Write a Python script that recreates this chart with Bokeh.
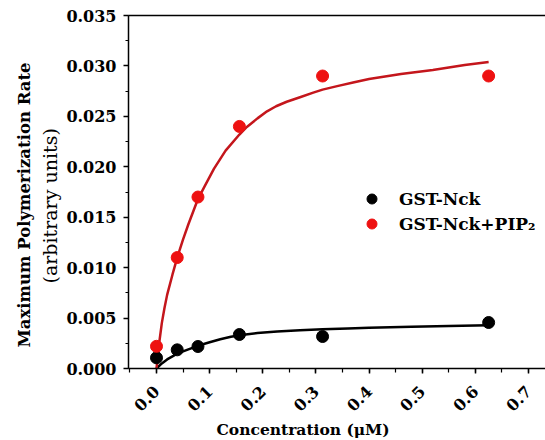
from bokeh.plotting import figure
from bokeh.models import (Range1d, LinearAxis, FixedTicker, SingleIntervalTicker,
                          PrintfTickFormatter, Title, Legend, LegendItem)
from bokeh.embed import file_html
from bokeh.resources import INLINE
import math

# ---- data ----
conc = [0.0, 0.039, 0.078, 0.156, 0.3125, 0.625]
rate_nck = [0.00106, 0.00185, 0.00218, 0.00337, 0.00317, 0.00456]
rate_nck_pip2 = [0.0022, 0.0110, 0.0170, 0.0240, 0.0290, 0.0290]

fit_x_nck = [0.0, 0.01, 0.02, 0.03, 0.039, 0.05, 0.06, 0.078, 0.10, 0.12, 0.14, 0.16,
             0.19, 0.227, 0.27, 0.3125, 0.36, 0.40, 0.48, 0.55, 0.625]
fit_y_nck = [0.0, 0.0005, 0.0009, 0.0012, 0.00146, 0.0017, 0.0019, 0.00225, 0.0026, 0.0029,
             0.00315, 0.00333, 0.00352, 0.00368, 0.0038, 0.00389, 0.00397, 0.00403,
             0.00413, 0.00421, 0.0043]

fit_x_pip2 = [0.0, 0.005, 0.01, 0.015, 0.02, 0.03, 0.039, 0.05, 0.06, 0.078, 0.09, 0.108,
              0.13, 0.156, 0.17, 0.19, 0.208, 0.225, 0.245, 0.27, 0.295, 0.3125, 0.34,
              0.37, 0.40, 0.46, 0.52, 0.58, 0.625]
fit_y_pip2 = [0.0, 0.0025, 0.0045, 0.0060, 0.0073, 0.0093, 0.0110, 0.0128, 0.0143, 0.0168,
              0.0180, 0.0198, 0.0216, 0.0232, 0.02395, 0.0248, 0.0255, 0.0260, 0.02645,
              0.0269, 0.02735, 0.02765, 0.0280, 0.02835, 0.0287, 0.0292, 0.0296, 0.0301,
              0.0304]

series_names = ["GST-Nck", "GST-Nck+PIP\u2082"]
x_title = "Concentration (\u03bcM)"
y_title = "Maximum Polymerization Rate"
y_subtitle = "(arbitrary units)"

FONT = "DejaVu Serif"

p = figure(width=545, height=440,
           x_range=Range1d(-0.0527, 0.732), y_range=Range1d(0, 0.035),
           output_backend="svg", toolbar_location=None,
           min_border_left=128, min_border_top=15, min_border_right=0,
           min_border_bottom=72)
p.outline_line_color = None
p.grid.visible = False
p.background_fill_color = "white"
p.border_fill_color = "white"

# axes styling
xa = p.xaxis[0]
ya = p.yaxis[0]
xa.ticker = SingleIntervalTicker(interval=0.1, num_minor_ticks=2)
ya.ticker = SingleIntervalTicker(interval=0.005, num_minor_ticks=2)
xa.formatter = PrintfTickFormatter(format="%.1f")
ya.formatter = PrintfTickFormatter(format="%.3f")
for ax in (xa, ya):
    ax.axis_line_width = 1.5
    ax.axis_line_color = "black"
    ax.major_tick_line_width = 1.5
    ax.minor_tick_line_width = 1.2
    ax.major_tick_in = 0
    ax.major_tick_out = 5
    ax.minor_tick_in = 0
    ax.minor_tick_out = 3
    ax.major_label_text_font = FONT
    ax.major_label_text_font_style = "bold"
    ax.major_label_text_font_size = "16px"
    ax.major_label_text_color = "black"
xa.minor_tick_out = 4
xa.major_label_orientation = math.pi / 4
xa.major_label_standoff = 15
ya.major_label_standoff = 7

# top spine
top_axis = LinearAxis(ticker=FixedTicker(ticks=[-10]), axis_line_width=1.5,
                      axis_line_color="black",
                      major_tick_out=0, minor_tick_out=0,
                      major_label_text_font_size="1px",
                      major_label_text_alpha=0, major_label_standoff=0)
p.add_layout(top_axis, "above")

# titles
p.add_layout(Title(text=y_subtitle, text_font=FONT, text_font_style="normal",
                   text_color="black",
                   text_font_size="19px", align="left", offset=85, standoff=6), "left")
p.add_layout(Title(text=y_title, text_font=FONT, text_font_style="bold",
                   text_color="black",
                   text_font_size="16.5px", align="left", offset=21, standoff=0), "left")
p.add_layout(Title(text=x_title, text_font=FONT, text_font_style="bold",
                   text_color="black", vertical_align="top",
                   text_font_size="15.5px", align="left", offset=88, standoff=0), "below")

# fitted curves
p.line(fit_x_nck, fit_y_nck, line_color="black", line_width=2.5)
p.line(fit_x_pip2, fit_y_pip2, line_color="#c4161c", line_width=2.5)

# data points
r1 = p.scatter(conc, rate_nck, size=12, fill_color="black", line_color="black")
r2 = p.scatter(conc, rate_nck_pip2, size=12, fill_color="#ee1111", line_color="#ee1111")

legend = Legend(items=[LegendItem(label=series_names[0], renderers=[r1]),
                       LegendItem(label=series_names[1], renderers=[r2])],
                location=(231, 132), padding=0, margin=0, spacing=0,
                glyph_width=25, glyph_height=25, label_height=25,
                label_standoff=15, border_line_color=None,
                background_fill_alpha=0,
                label_text_font=FONT, label_text_font_style="bold",
                label_text_font_size="17px", label_text_color="black")
p.add_layout(legend)

open("out.html", "w").write(file_html(p, INLINE))
